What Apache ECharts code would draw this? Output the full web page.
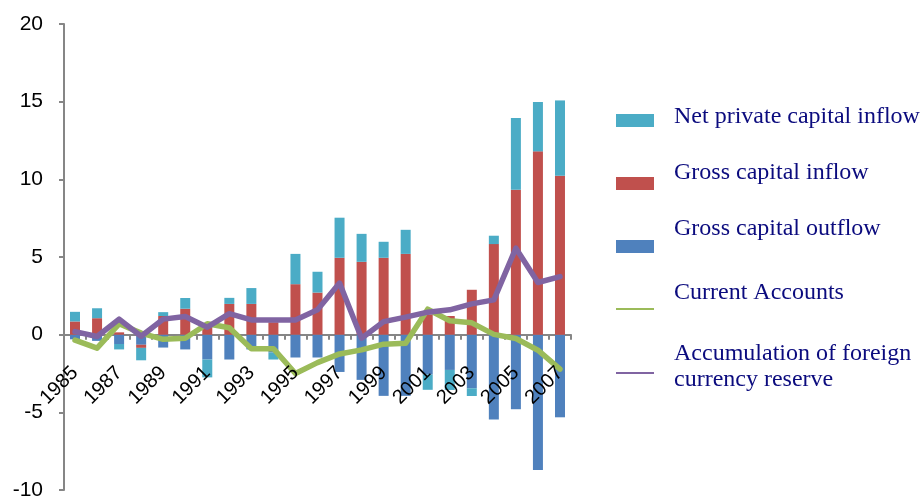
<!DOCTYPE html>
<html>
<head>
<meta charset="utf-8">
<script src="https://cdn.jsdelivr.net/npm/echarts@6/dist/echarts.min.js"></script>
<style>
  html, body { margin: 0; padding: 0; background: #ffffff; }
  #chart { width: 921px; height: 500px; }
</style>
</head>
<body>
<div id="chart"></div>
<script>
// Capital flows by year
const years = ['1985','1986','1987','1988','1989','1990','1991','1992','1993','1994','1995','1996',
               '1997','1998','1999','2000','2001','2002','2003','2004','2005','2006','2007'];

const grossOutflow = [-0.3, -0.4, -0.6, -0.65, -0.83, -0.95, -1.6, -1.6, -0.95, -1.15, -1.47, -1.47,
                      -2.4, -2.91, -3.94, -3.94, -2.57, -2.27, -3.45, -5.46, -4.8, -8.71, -5.32];
const grossInflow = [0.85, 1.06, 0.15, -0.2, 1.2, 1.67, 0.6, 1.98, 1.98, 0.8, 3.25, 2.71,
                     4.95, 4.69, 4.95, 5.2, 1.3, 1.2, 2.89, 5.83, 9.33, 11.8, 10.23];
const netPrivateInflow = [0.62, 0.64, -0.35, -0.8, 0.25, 0.69, -1.15, 0.39, 1.02, -0.45, 1.95, 1.34,
                          2.58, 1.8, 1.03, 1.55, -0.98, -1.29, -0.5, 0.54, 4.62, 3.18, 4.85];
const currentAccounts = [-0.35, -0.87, 0.7, 0.1, -0.3, -0.23, 0.7, 0.45, -0.9, -0.9, -2.5, -1.8,
                         -1.24, -0.98, -0.61, -0.55, 1.64, 0.9, 0.76, 0.02, -0.25, -1.0, -2.22];
const reserveAccumulation = [0.2, -0.12, 1.0, -0.1, 1.0, 1.17, 0.48, 1.35, 0.95, 0.95, 0.95, 1.6,
                             3.32, -0.23, 0.84, 1.13, 1.45, 1.6, 1.98, 2.24, 5.57, 3.36, 3.74];

const yTicks = { min: -10, max: 20, step: 5 };

const names = {
  net: 'Net private capital inflow',
  inflow: 'Gross capital inflow',
  outflow: 'Gross capital outflow',
  ca: 'Current Accounts',
  reserve: 'Accumulation of foreign\ncurrency reserve'
};

const colors = {
  net: '#4BACC6',
  inflow: '#C0504D',
  outflow: '#4F81BD',
  ca: '#9BBB59',
  reserve: '#8064A2',
  axis: '#868686',
  legendText: '#0B0B7E'
};

const plot = { left: 64, right: 350, top: 24, bottom: 10, height: 466 };
// distance from the bottom of the plot up to the zero line
const zeroOffset = plot.height * (0 - yTicks.min) / (yTicks.max - yTicks.min);

const chart = echarts.init(document.getElementById('chart'), null, { renderer: 'canvas' });

const legendFont = { fontFamily: '"Liberation Serif", "Times New Roman", serif', fontSize: 24, fill: colors.legendText };

function legendText(txt, y) {
  return { type: 'text', left: 674, top: y, style: Object.assign({ text: txt, lineHeight: 26 }, legendFont), silent: true };
}

const tickFont = { color: '#000000', fontFamily: '"Liberation Sans", Arial, sans-serif' };

chart.setOption({
  animation: false,
  backgroundColor: '#ffffff',
  grid: { left: plot.left, right: plot.right, top: plot.top, bottom: plot.bottom, containLabel: false, outerBoundsMode: 'none' },
  xAxis: [
    {
      // axis line and ticks sitting on zero
      type: 'category',
      data: years,
      boundaryGap: true,
      axisLine: { onZero: true, lineStyle: { color: colors.axis, width: 2 } },
      axisTick: { show: true, interval: 0, length: 5, inside: false, lineStyle: { color: colors.axis, width: 2 } },
      axisLabel: { show: false },
      splitLine: { show: false }
    },
    {
      // year labels placed just under the zero line, drawn over the bars
      type: 'category',
      data: years,
      boundaryGap: true,
      position: 'bottom',
      offset: -zeroOffset,
      z: 20,
      axisLine: { show: false, onZero: false },
      axisTick: { show: false },
      axisLabel: Object.assign({ interval: 1, rotate: 45, margin: 35, fontSize: 20 }, tickFont),
      splitLine: { show: false }
    }
  ],
  yAxis: {
    type: 'value',
    min: yTicks.min,
    max: yTicks.max,
    interval: yTicks.step,
    axisLine: { show: true, lineStyle: { color: colors.axis, width: 2 } },
    axisTick: { show: true, length: 5, lineStyle: { color: colors.axis, width: 2 } },
    axisLabel: Object.assign({ margin: 21, fontSize: 21 }, tickFont),
    splitLine: { show: false }
  },
  series: [
    {
      name: names.outflow, type: 'bar', stack: 'flows', barWidth: 10,
      itemStyle: { color: colors.outflow }, data: grossOutflow
    },
    {
      name: names.inflow, type: 'bar', stack: 'flows', barWidth: 10,
      itemStyle: { color: colors.inflow }, data: grossInflow
    },
    {
      name: names.net, type: 'bar', stack: 'flows', barWidth: 10,
      itemStyle: { color: colors.net }, data: netPrivateInflow
    },
    {
      name: names.ca, type: 'line', showSymbol: false, symbol: 'none',
      lineStyle: { color: colors.ca, width: 5.5, cap: 'round', join: 'round' },
      itemStyle: { color: colors.ca }, data: currentAccounts, z: 5
    },
    {
      name: names.reserve, type: 'line', showSymbol: false, symbol: 'none',
      lineStyle: { color: colors.reserve, width: 5.5, cap: 'round', join: 'round' },
      itemStyle: { color: colors.reserve }, data: reserveAccumulation, z: 6
    }
  ],
  graphic: [
    // legend keys
    { type: 'rect', shape: { x: 616, y: 114, width: 38, height: 13 }, style: { fill: colors.net }, silent: true },
    { type: 'rect', shape: { x: 616, y: 177, width: 38, height: 13 }, style: { fill: colors.inflow }, silent: true },
    { type: 'rect', shape: { x: 616, y: 240, width: 38, height: 13 }, style: { fill: colors.outflow }, silent: true },
    { type: 'line', shape: { x1: 616, y1: 309, x2: 654, y2: 309 }, style: { stroke: colors.ca, lineWidth: 2 }, silent: true },
    { type: 'line', shape: { x1: 616, y1: 373, x2: 654, y2: 373 }, style: { stroke: colors.reserve, lineWidth: 2 }, silent: true },
    // legend labels
    legendText(names.net, 104),
    legendText(names.inflow, 160),
    legendText(names.outflow, 216),
    legendText(names.ca, 280),
    legendText(names.reserve, 341)
  ]
});
</script>
</body>
</html>
